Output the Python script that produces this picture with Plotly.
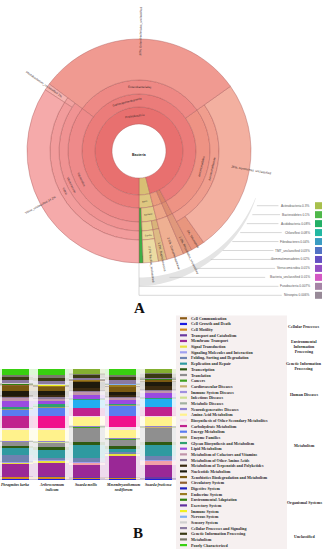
import math
import plotly.graph_objects as go

W, H = 334, 550

# ---------------- Panel A data (taxonomy, % of reads) ----------------
tax_name = ["Bacteria",
            "Firmicutes", "Bacilli", "Lactobacillales", "Bacillales", "Bacillaceae", "Bacillus",
            "Bacillus_unclassified", "Staphylococcaceae", "Staphylococcus",
            "Proteobacteria", "Betaproteobacteria", "Burkholderiales", "Comamonadaceae",
            "Alphaproteobacteria", "Rhizobiales", "Rhizobiales_unclassified",
            "Gammaproteobacteria", "Aeromonadales", "Aeromonadaceae", "Tolumonas", "Aeromonas_unclassified",
            "Enterobacteriales", "Enterobacteriales_unclassified",
            "Vibrionales", "Vibrionaceae", "Photobacterium", "Photobacterium_unclassified", "Vibrio",
            "Vibrio_unclassified"]
tax_parent = ["",
              "Bacteria", "Firmicutes", "Bacilli", "Bacilli", "Bacillales", "Bacillaceae",
              "Bacillus", "Bacillales", "Staphylococcaceae",
              "Bacteria", "Proteobacteria", "Betaproteobacteria", "Burkholderiales",
              "Proteobacteria", "Alphaproteobacteria", "Rhizobiales",
              "Proteobacteria", "Gammaproteobacteria", "Aeromonadales", "Aeromonadaceae", "Aeromonadaceae",
              "Gammaproteobacteria", "Enterobacteriales",
              "Gammaproteobacteria", "Vibrionales", "Vibrionaceae", "Photobacterium", "Vibrionaceae",
              "Vibrio"]
tax_rank = [0, 1, 2, 3, 3, 4, 5, 6, 4, 5, 1, 2, 3, 4, 2, 3, 4, 2, 3, 4, 5, 5, 3, 4, 3, 4, 5, 6, 5, 6]
tax_pct = [100, 4.0, 4.0, 0.6, 3.4, 2.2, 2.2, 2.2, 1.2, 1.2,
           96.0, 2.5, 2.5, 2.5, 1.3, 1.3, 1.3,
           92.2, 27.0, 27.0, 2.0, 25.0, 30.0, 30.0,
           35.2, 35.2, 1.0, 1.0, 34.2, 34.2]

minor_phyla = ["Actinobacteria", "Bacteroidetes", "Acidobacteria", "Chloroflexi", "Fibrobacteres",
               "TM7_unclassified", "Gemmatimonadetes", "Verrucomicrobia", "Bacteria_unclassified",
               "Fusobacteria", "Nitrospira"]
minor_pct = [0.3, 0.1, 0.08, 0.08, 0.04, 0.03, 0.02, 0.01, 0.01, 0.007, 0.006]

# ---------------- Panel B data (KEGG level 2, % of genes) ----------------
samples = ["Phragmites karka", "Arthrocnemum indicum", "Suaeda mollis",
           "Mesembryanthemum nodiflorum", "Suaeda fruticosa"]
sample_ticks = ["Phragmites karka", "Arthrocnemum<br>indicum", "Suaeda mollis",
                "Mesembryanthemum<br>nodiflorum", "Suaeda fruticosa"]
kegg_categories = [
    "Cell Communication", "Cell Growth and Death", "Cell Motility", "Transport and Catabolism",
    "Membrane Transport", "Signal Transduction", "Signaling Molecules and Interaction",
    "Folding, Sorting and Degradation", "Replication and Repair", "Transcription", "Translation",
    "Cancers", "Cardiovascular Diseases", "Immune System Diseases", "Infectious Diseases",
    "Metabolic Diseases", "Neurodegenerative Diseases",
    "Amino Acid Metabolism", "Biosynthesis of Other Secondary Metabolites", "Carbohydrate Metabolism",
    "Energy Metabolism", "Enzyme Families", "Glycan Biosynthesis and Metabolism", "Lipid Metabolism",
    "Metabolism of Cofactors and Vitamins", "Metabolism of Other Amino Acids",
    "Metabolism of Terpenoids and Polyketides", "Nucleotide Metabolism",
    "Xenobiotics Biodegradation and Metabolism",
    "Circulatory System", "Digestive System", "Endocrine System", "Environmental Adaptation",
    "Excretory System", "Immune System", "Nervous System", "Sensory System",
    "Cellular Processes and Signaling", "Genetic Information Processing", "Metabolism",
    "Poorly Characterized"]
kegg_groups = ["Cellular Processes", "Environmental<br>Information<br>Processing",
               "Genetic Information<br>Processing", "Human Diseases", "Metabolism",
               "Organismal Systems", "Unclassified"]
kegg_group_sizes = [4, 3, 4, 6, 12, 8, 4]

abund_phragmites = [0.2, 0.5, 2.0, 0.3, 11.2, 1.8, 0.3, 6.3, 6.3, 1.8, 3.6,
                    0.1, 0.1, 0.1, 0.3, 0.2, 0.2,
                    9.9, 1.8, 11.0, 5.4, 1.0, 1.8, 5.4, 2.5, 1.0, 1.0, 4.0, 5.4,
                    0.3, 0.1, 0.5, 0.3, 0.1, 0.2, 0.2, 0.1, 2.7, 2.7, 2.0, 5.3]
abund_arthrocnemum = [0.2, 0.5, 2.2, 0.3, 12.0, 2.2, 0.3, 2.0, 7.5, 2.5, 4.0,
                      0.1, 0.2, 0.1, 0.3, 0.2, 0.1,
                      10.0, 2.0, 10.9, 7.5, 1.0, 2.5, 3.0, 2.0, 1.0, 2.0, 4.0, 3.5,
                      0.2, 0.1, 0.6, 0.3, 0.1, 0.2, 0.3, 0.2, 3.5, 2.5, 2.5, 5.4]
abund_suaeda_m = [0.2, 1.2, 0.8, 0.5, 10.8, 2.5, 0.2, 4.0, 11.3, 2.7, 13.5,
                  0.1, 0.5, 0.05, 0.15, 0.1, 0.1,
                  8.1, 0.5, 7.8, 7.0, 0.5, 0.5, 3.5, 3.0, 0.7, 3.0, 5.0, 1.5,
                  0.05, 0.05, 0.3, 0.1, 0.05, 0.1, 0.1, 0.05, 1.0, 3.7, 0.5, 4.2]
abund_mesembryanthemum = [0.2, 0.3, 2.0, 0.2, 18.5, 2.5, 0.2, 1.0, 3.0, 2.7, 6.3,
                          0.1, 0.2, 0.1, 0.2, 0.1, 0.1,
                          7.2, 3.0, 10.0, 9.5, 0.5, 0.5, 3.5, 2.7, 0.8, 1.5, 2.5, 4.5,
                          0.2, 0.1, 1.7, 0.2, 0.1, 0.1, 0.2, 0.1, 3.6, 2.7, 1.8, 5.3]
abund_suaeda_f = [0.2, 0.8, 0.7, 1.0, 10.8, 4.0, 0.3, 3.5, 10.0, 2.7, 13.5,
                  0.1, 0.3, 0.1, 0.2, 0.2, 0.1,
                  9.0, 0.5, 7.5, 7.5, 0.5, 0.5, 4.0, 3.0, 0.5, 3.0, 4.5, 1.5,
                  0.05, 0.05, 0.3, 0.1, 0.05, 0.1, 0.1, 0.05, 0.8, 3.5, 0.5, 3.9]
abund = [abund_phragmites, abund_arthrocnemum, abund_suaeda_m, abund_mesembryanthemum, abund_suaeda_f]

# ---------------- styles ----------------
tax_color = {
    "Firmicutes": "#d8bf74", "Bacilli": "#dec780", "Lactobacillales": "#3fae45", "Bacillales": "#e2cc88",
    "Bacillaceae": "#e5d190", "Bacillus": "#e8d698", "Bacillus_unclassified": "#ebdba2",
    "Staphylococcaceae": "#d9b47a", "Staphylococcus": "#ddbb84",
    "Proteobacteria": "#e8706f", "Betaproteobacteria": "#eb9c7e", "Burkholderiales": "#eda688",
    "Comamonadaceae": "#efb092", "Alphaproteobacteria": "#da8468", "Rhizobiales": "#dd8e72",
    "Rhizobiales_unclassified": "#e0987c", "Gammaproteobacteria": "#eb7c7a", "Aeromonadales": "#ee9384",
    "Aeromonadaceae": "#f09e8e", "Tolumonas": "#e8967e", "Aeromonas_unclassified": "#f3b0a0",
    "Enterobacteriales": "#ee8985", "Enterobacteriales_unclassified": "#f09a91",
    "Vibrionales": "#ee8a8a", "Vibrionaceae": "#f09393", "Photobacterium": "#f2a2a0",
    "Photobacterium_unclassified": "#f5b4b0", "Vibrio": "#f29c9c", "Vibrio_unclassified": "#f5aaaa"}
minor_colors = ["#a8c04c", "#4fb84a", "#22b066", "#22b8a2", "#3a9cc2", "#5272c4", "#6450c2",
                "#9450c4", "#d458c4", "#a684a6", "#988a98"]
kegg_colors = ["#8b5a14", "#1a1ae0", "#d08a20", "#6a3aa0",
               "#9a2896", "#e8e040", "#a0a0f0",
               "#6f82b0", "#2f9aa0", "#2f5a12", "#8f8f8f",
               "#40a020", "#c8b070", "#a090e0", "#d0e090", "#a0b0a0", "#9080d0",
               "#fff28c", "#f4d4e8", "#c0228e", "#5a7cf0", "#a0a060", "#2fa070", "#9a4ae0",
               "#c094aa", "#8a7a9a", "#3a2a10", "#1e1a0c", "#7a5a12",
               "#906030", "#2020c0", "#9a7a20", "#308010", "#6030a0", "#f0f020", "#80b0f0", "#d0d0d0",
               "#8a7aa0", "#3a3a14", "#7a7a6a", "#38d010"]
bar_color_override = {
    "Energy Metabolism": [None, None, "#22aef0", None, "#22aef0"],
    "Carbohydrate Metabolism": [None, "#f0108c", None, "#f0108c", None],
    "Poorly Characterized": [None, None, "#84b030", None, "#84b030"],
    "Signal Transduction": [None, None, "#f2a0a8", None, "#f2a0a8"],
}


def xp(x):
    return x / W


def yp(y):
    return 1 - y / H


def norm_angle(a):
    while a > 90:
        a -= 180
    while a < -90:
        a += 180
    return a


fig = go.Figure()
shapes = []
annotations = []

# =============== Panel A: Krona-like sunburst via barpolar ===============
CX, CY = 139.0, 151.0
R_MAX = 135.0
RING = [0, 27, 44, 57, 71, 80, 89, 112]

children = {}
for n, p in zip(tax_name, tax_parent):
    children.setdefault(p, []).append(n)
idx = {n: i for i, n in enumerate(tax_name)}
start, span = {}, {}


def place(node, a0):
    start[node] = a0
    span[node] = tax_pct[idx[node]] * 3.6
    a = a0
    for c in children.get(node, []):
        place(c, a)
        a += tax_pct[idx[c]] * 3.6


place("Bacteria", -90.0)


def pol(r, th):
    t = math.radians(th)
    return CX + r * math.cos(t), CY - r * math.sin(t)


# "others" crescent
band_t, band_r = [], []
n_b = 40
for k in range(n_b + 1):
    f = k / n_b
    band_t.append(-90 + 68 * f)
    band_r.append(136 - 10 * f)
for k in range(n_b, -1, -1):
    f = k / n_b
    band_t.append(-90 + 68 * f)
    band_r.append(126.5 - 1.0 * f)
fig.add_trace(go.Scatterpolar(r=band_r, theta=band_t, mode="lines", fill="toself",
                              fillcolor="#e4e4e4", line=dict(width=0, color="#e4e4e4"),
                              hoverinfo="skip", showlegend=False))

th, wd, bs, rr, cl, tx = [], [], [], [], [], []
for i, n in enumerate(tax_name):
    if tax_rank[i] == 0:
        continue
    leaf = n not in children
    r_in = RING[tax_rank[i]]
    r_out = RING[-1] if leaf else RING[tax_rank[i] + 1]
    th.append(start[n] + span[n] / 2)
    wd.append(span[n])
    bs.append(r_in)
    rr.append(r_out - r_in)
    cl.append(tax_color[n])
    tx.append(f"{n} {tax_pct[i]}%")
fig.add_trace(go.Barpolar(theta=th, width=wd, base=bs, r=rr, text=tx, hoverinfo="text",
                          marker=dict(color=cl, line=dict(color="rgba(165,85,85,0.65)", width=0.6)),
                          showlegend=False))

SANS = "Liberation Sans"
for i, n in enumerate(tax_name):
    if tax_rank[i] == 0:
        continue
    leaf = n not in children
    mid = start[n] + span[n] / 2
    r_in = RING[tax_rank[i]]
    if leaf:
        if tax_pct[i] < 1.0:
            continue
        pct = f"{tax_pct[i]:g}%"
        if math.cos(math.radians(mid)) >= -0.02:
            txt = f"{pct}, {n}"
        else:
            txt = f"{n} {pct}"
        w = 1.55 * len(txt)
        rc = 93 + w / 2
        x, y = pol(rc, mid)
        annotations.append(dict(x=xp(x), y=yp(y), xref="paper", yref="paper", text=txt,
                                showarrow=False, textangle=norm_angle(-mid),
                                font=dict(family=SANS, size=3, color="#3a2a2a"),
                                xanchor="center", yanchor="middle"))
    else:
        r_out = RING[tax_rank[i] + 1]
        rm = (r_in + r_out) / 2
        arc = math.radians(span[n]) * rm
        fs = None
        if arc >= 1.65 * len(n) + 2:
            fs = 3
        elif arc >= 1.1 * len(n) + 1:
            fs = 2
        if fs is None:
            continue
        x, y = pol(rm, mid)
        annotations.append(dict(x=xp(x), y=yp(y), xref="paper", yref="paper", text=n,
                                showarrow=False, textangle=norm_angle(90 - mid),
                                font=dict(family=SANS, size=fs, color="#3a2a2a"),
                                xanchor="center", yanchor="middle"))

annotations.append(dict(x=xp(CX), y=yp(CY), xref="paper", yref="paper", text="<b>Bacteria</b>",
                        showarrow=False, font=dict(family=SANS, size=3.5, color="#222")))

# minor-phyla legend with leader lines
ROW0, ROW_STEP = 205.7, 8.96
R_LEAD = 130.0
for k, (nm, v, c) in enumerate(zip(minor_phyla, minor_pct, minor_colors)):
    y = ROW0 + ROW_STEP * k
    txt = f"{nm} {v:g}%"
    annotations.append(dict(x=xp(312), y=yp(y), xref="paper", yref="paper", text=txt,
                            showarrow=False, xanchor="right", yanchor="middle",
                            font=dict(family=SANS, size=3.2, color="#555")))
    shapes.append(dict(type="rect", xref="paper", yref="paper", x0=xp(315), x1=xp(322),
                       y0=yp(y + 3.5), y1=yp(y - 3.5), fillcolor=c, line=dict(width=0)))
    dy = y - CY
    x_end = CX + math.sqrt(R_LEAD ** 2 - dy ** 2) if abs(dy) < R_LEAD else CX
    x_start = 312 - 1.66 * len(txt) - 2
    shapes.append(dict(type="line", xref="paper", yref="paper", x0=xp(x_end), x1=xp(x_start),
                       y0=yp(y), y1=yp(y), line=dict(color="#bdbdbd", width=0.6)))
y_last = ROW0 + ROW_STEP * (len(minor_phyla) - 1)
shapes.append(dict(type="line", xref="paper", yref="paper", x0=xp(CX), x1=xp(CX),
                   y0=yp(CY + RING[-1]), y1=yp(y_last), line=dict(color="#bdbdbd", width=0.6)))

annotations.append(dict(x=xp(139), y=yp(308), xref="paper", yref="paper", text="<b>A</b>",
                        showarrow=False, font=dict(family="Liberation Serif", size=15, color="#111")))

# =============== Panel B: stacked bars ===============
BAR_W = 0.756
xs = list(range(len(samples)))


def colors_for(k):
    ov = bar_color_override.get(kegg_categories[k])
    return [(ov[j] if ov and ov[j] else kegg_colors[k]) for j in xs]


for layer in ("under", "main"):
    cum = [0.0] * len(samples)
    for k, cat in enumerate(kegg_categories):
        vals = [abund[j][k] for j in xs]
        fig.add_trace(go.Bar(
            x=xs, y=vals, base=list(cum), width=1.0 if layer == "under" else BAR_W,
            marker=dict(color=colors_for(k), line=dict(width=0),
                        opacity=0.17 if layer == "under" else 1.0),
            name=cat, showlegend=False,
            hoverinfo="skip" if layer == "under" else "name+y",
            xaxis="x", yaxis="y"))
        cum = [c + v for c, v in zip(cum, vals)]

SERIF = "Liberation Serif"
for j, lab in enumerate(sample_ticks):
    annotations.append(dict(x=j, y=yp(481.3), xref="x", yref="paper", text=f"<b><i>{lab}</i></b>",
                            showarrow=False, yanchor="top", xanchor="center",
                            font=dict(family=SERIF, size=3.8, color="#222")))

# legend panel B
shapes.append(dict(type="rect", xref="paper", yref="paper", x0=xp(176), x1=xp(287),
                   y0=yp(549), y1=yp(315.5), fillcolor="#f6f0f0", line=dict(width=0), layer="below"))
LROW0, LSTEP = 318.3, 5.67
for k, cat in enumerate(kegg_categories):
    y = LROW0 + LSTEP * k
    shapes.append(dict(type="rect", xref="paper", yref="paper", x0=xp(180), x1=xp(187),
                       y0=yp(y + 1.1), y1=yp(y - 1.1), fillcolor=kegg_colors[k], line=dict(width=0)))
    annotations.append(dict(x=xp(189), y=yp(y), xref="paper", yref="paper", text=f"<b>{cat}</b>",
                            showarrow=False, xanchor="left", yanchor="middle",
                            font=dict(family=SERIF, size=4, color="#2a2a2a")))
k0 = 0
for g, size in zip(kegg_groups, kegg_group_sizes):
    yc = LROW0 + LSTEP * (k0 + (size - 1) / 2)
    annotations.append(dict(x=xp(304), y=yp(yc), xref="paper", yref="paper", text=f"<b>{g}</b>",
                            showarrow=False, xanchor="center", yanchor="middle", align="center",
                            font=dict(family=SERIF, size=4, color="#2a2a2a")))
    k0 += size

annotations.append(dict(x=xp(138), y=yp(542.5), xref="paper", yref="paper", text="<b>B</b>",
                        showarrow=False, font=dict(family=SERIF, size=15, color="#111")))

fig.update_layout(
    width=W, height=H, margin=dict(l=0, r=0, t=0, b=0),
    paper_bgcolor="white", plot_bgcolor="white",
    barmode="overlay", bargap=0,
    polar=dict(
        domain=dict(x=[(CX - R_MAX) / W, (CX + R_MAX) / W], y=[yp(CY + R_MAX), yp(CY - R_MAX)]),
        bgcolor="rgba(0,0,0,0)",
        radialaxis=dict(range=[0, R_MAX], visible=False, showgrid=False),
        angularaxis=dict(rotation=0, direction="counterclockwise", visible=False, showgrid=False),
    ),
    xaxis=dict(domain=[0, 176 / W], range=[-0.434, 4.496], visible=False, fixedrange=True),
    yaxis=dict(domain=[yp(480), yp(369)], range=[0, 100], visible=False, fixedrange=True),
    shapes=shapes, annotations=annotations,
)

fig.write_html("out.html", config={"displayModeBar": False},
               post_script="document.body.style.margin='0';document.body.style.padding='0';"
                           "document.body.style.overflow='hidden';")
